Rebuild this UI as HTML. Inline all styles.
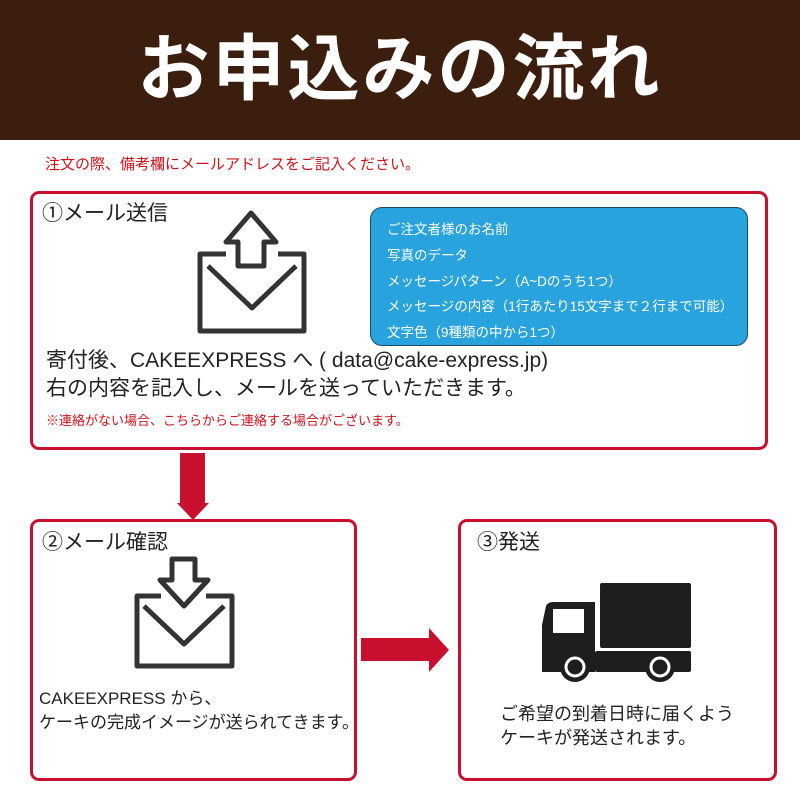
<!DOCTYPE html>
<html><head><meta charset="utf-8"><style>
body{margin:0;width:800px;height:800px;background:#fff;position:relative;overflow:hidden;font-family:"Liberation Sans","Noto Sans CJK JP",sans-serif;}
.a{position:absolute;white-space:nowrap;line-height:1;}
.box{position:absolute;border:3px solid #c8102e;border-radius:9px;box-sizing:border-box;}
</style></head><body>
<div class="a" style="left:0;top:0;width:800px;height:140px;background:#3b1e0e;"></div>
<div class="a" style="left:0;top:34px;width:800px;text-align:center;color:#fff;font-size:72px;font-weight:bold;letter-spacing:3px;">お申込みの流れ</div>
<div class="a" style="left:45px;top:157px;font-size:15px;color:#d0121b;">注文の際、備考欄にメールアドレスをご記入ください。</div>

<div class="box" style="left:30px;top:191px;width:738px;height:259px;"></div>
<div class="a" style="left:42px;top:203px;font-size:21px;color:#222;">①メール送信</div>
<div class="a" style="left:370px;top:207px;width:378px;height:139px;background:#29a3dd;border:1px solid #1a4a66;border-radius:12px;box-sizing:border-box;"></div>
<div class="a" style="left:387px;top:217px;font-size:13.5px;color:#fff;line-height:25.8px;white-space:pre;">ご注文者様のお名前
写真のデータ
メッセージパターン（A~Dのうち1つ）
メッセージの内容（1行あたり15文字まで２行まで可能）
文字色（9種類の中から1つ）</div>
<svg class="a" style="left:0;top:0" width="800" height="800">
<g fill="none" stroke="#333" stroke-width="5" stroke-linejoin="round">
<path d="M226 254 H200 V331 H304 V254 H278"/>
<path d="M208 266 L252 308 L296 266"/>
<path d="M251 213 L226 242 H238 V266 H264 V242 H276 Z"/>
<path d="M161 596 H137 V666 H232 V596 H206"/>
<path d="M144 606 L184 644 L224 606"/>
<path d="M172 559 H195 V580 H208 L184 606 L160 580 H172 Z"/>
</g>
<g fill="#c8102e">
<rect x="180" y="453" width="25" height="52"/>
<polygon points="177,503 209,503 193,520"/>
<rect x="361" y="638" width="70" height="23"/>
<polygon points="429,628 449,650 429,672"/>
</g>
<g fill="#1e1e1e">
<rect x="600" y="583" width="91" height="65" rx="2"/>
<path d="M546 606 Q548 602 553 602 H595 V672 H542 V625 Z"/>
<rect x="595" y="651" width="96" height="21" rx="2"/>
<circle cx="575" cy="667" r="15"/><circle cx="660" cy="667" r="15"/>
</g>
<rect x="553" y="609" width="31" height="24" fill="#fff"/>
<g fill="none" stroke="#fff" stroke-width="3"><circle cx="575" cy="667" r="9"/><circle cx="660" cy="667" r="9"/></g>
</svg>
<div class="a" style="left:46px;top:350px;font-size:21px;color:#222;">寄付後、CAKEEXPRESS へ ( data@cake-express.jp)</div>
<div class="a" style="left:46px;top:378px;font-size:21px;color:#222;">右の内容を記入し、メールを送っていただきます。</div>
<div class="a" style="left:46px;top:414px;font-size:13px;color:#d0121b;">※連絡がない場合、こちらからご連絡する場合がございます。</div>

<div class="box" style="left:30px;top:519px;width:327px;height:262px;"></div>
<div class="a" style="left:42px;top:532px;font-size:21px;color:#222;">②メール確認</div>
<div class="a" style="left:39px;top:690px;font-size:17px;color:#222;">CAKEEXPRESS から、</div>
<div class="a" style="left:39px;top:714px;font-size:17px;color:#222;">ケーキの完成イメージが送られてきます。</div>

<div class="box" style="left:458px;top:519px;width:319px;height:262px;"></div>
<div class="a" style="left:477px;top:532px;font-size:21px;color:#222;">③発送</div>
<div class="a" style="left:500px;top:705px;font-size:18px;color:#222;">ご希望の到着日時に届くよう</div>
<div class="a" style="left:500px;top:729px;font-size:18px;color:#222;">ケーキが発送されます。</div>
</body></html>
